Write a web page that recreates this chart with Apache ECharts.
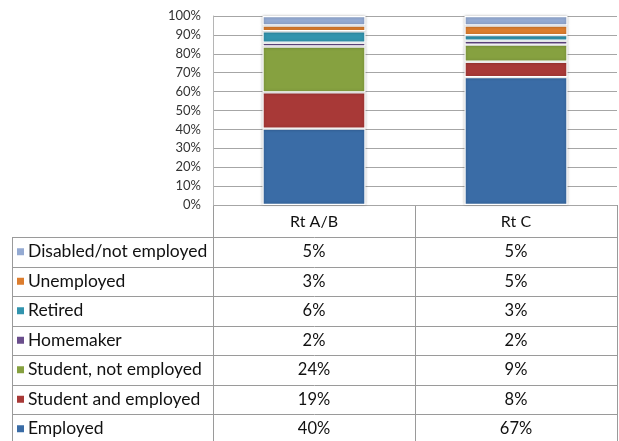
<!DOCTYPE html>
<html lang="en">
<head>
  <meta charset="UTF-8">
  <title>Employment status by route</title>
  <style>
    html, body { margin: 0; padding: 0; background: #fff; }
    #myChart { width: 619px; height: 441px; }
  </style>
</head>
<body>
  <div id="myChart"></div>
  <script src="https://cdn.jsdelivr.net/npm/echarts@6/dist/echarts.min.js"></script>
  <script>
    // data, bottom of the stack first
    const categories = ['Rt A/B', 'Rt C'];
    const seriesNames = ['Employed', 'Student and employed', 'Student, not employed', 'Homemaker', 'Retired', 'Unemployed', 'Disabled/not employed'];
    const valuesAB = [40, 19, 24, 2, 6, 3, 5];
    const valuesC = [67, 8, 9, 2, 3, 5, 5];
    const colors = ['#3a6ca6', '#a83937', '#86a140', '#6a4e8c', '#3294ae', '#dc7d2e', '#94aad2'];

    const FONT = 'Lato, "Liberation Sans", sans-serif';
    const gridLeft = 213, gridRight = 617, gridTop = 16, gridBottom = 205;
    const tableLeft = 12, headerH = 32, rowH = 29.5;
    const lineColor = '#9a9a9a';

    // 100% stacked: each column is scaled to its own total
    const sumAB = valuesAB.reduce((a, b) => a + b, 0);
    const sumC = valuesC.reduce((a, b) => a + b, 0);

    const series = seriesNames.map((name, i) => ({
      name: name,
      type: 'bar',
      stack: 'total',
      barWidth: '51%',
      data: [valuesAB[i] / sumAB * 100, valuesC[i] / sumC * 100],
      itemStyle: {
        color: colors[i],
        borderColor: '#fff',
        borderWidth: 1.2,
        shadowBlur: 3,
        shadowColor: 'rgba(0,0,0,0.25)'
      },
      silent: true
    }));

    // data table under the plot
    const colW = (gridRight - gridLeft) / categories.length;
    const rows = seriesNames.slice().reverse();
    const rowsAB = valuesAB.slice().reverse();
    const rowsC = valuesC.slice().reverse();
    const rowColors = colors.slice().reverse();
    const tableBottom = gridBottom + headerH + rowH * rows.length;
    const graphic = [];
    const line = (x1, y1, x2, y2) => graphic.push({
      type: 'line', silent: true,
      shape: { x1: x1, y1: y1, x2: x2, y2: y2 },
      style: { stroke: lineColor, lineWidth: 1 }
    });
    const text = (t, x, y, align, size) => graphic.push({
      type: 'text', silent: true,
      style: { text: t, x: x, y: y, font: size + 'px ' + FONT, fill: '#111', textAlign: align, textVerticalAlign: 'middle' }
    });

    line(gridLeft, gridBottom + 0.5, gridRight, gridBottom + 0.5);
    for (let c = 0; c <= categories.length; c++) {
      const x = Math.round(gridLeft + c * colW) + 0.5;
      line(x, gridBottom, x, tableBottom);
    }
    line(tableLeft + 0.5, gridBottom + headerH, tableLeft + 0.5, tableBottom);
    for (let r = 0; r <= rows.length; r++) {
      const y = Math.round(gridBottom + headerH + r * rowH) + 0.5;
      line(tableLeft, y, gridRight, y);
    }
    categories.forEach((c, j) => text(c, gridLeft + colW * (j + 0.5), gridBottom + headerH / 2 + 1, 'center', 16));
    rows.forEach((name, r) => {
      const cy = gridBottom + headerH + rowH * (r + 0.5);
      graphic.push({
        type: 'rect', silent: true,
        shape: { x: tableLeft + 5, y: cy - 3.5, width: 7, height: 7 },
        style: { fill: rowColors[r] }
      });
      text(name, tableLeft + 16, cy, 'left', 17.5);
      text(rowsAB[r] + '%', gridLeft + colW * 0.5, cy, 'center', 16.5);
      text(rowsC[r] + '%', gridLeft + colW * 1.5, cy, 'center', 16.5);
    });

    const myChart = echarts.init(document.getElementById('myChart'));
    const option = {
      animation: false,
      grid: { left: gridLeft, right: 619 - gridRight, top: gridTop, bottom: 441 - gridBottom },
      xAxis: {
        type: 'category',
        data: categories,
        axisLine: { show: false },
        axisTick: { show: false },
        axisLabel: { show: false }
      },
      yAxis: {
        type: 'value',
        min: 0,
        max: 100,
        interval: 10,
        axisLine: { show: true, lineStyle: { color: '#b5b5b5' } },
        axisTick: { show: false },
        axisLabel: { formatter: '{value}%', color: '#333', fontSize: 13, fontFamily: FONT, margin: 12 },
        splitLine: { lineStyle: { color: '#a6a6a6', width: 1 } }
      },
      series: series,
      graphic: graphic
    };
    myChart.setOption(option);
  </script>
</body>
</html>
